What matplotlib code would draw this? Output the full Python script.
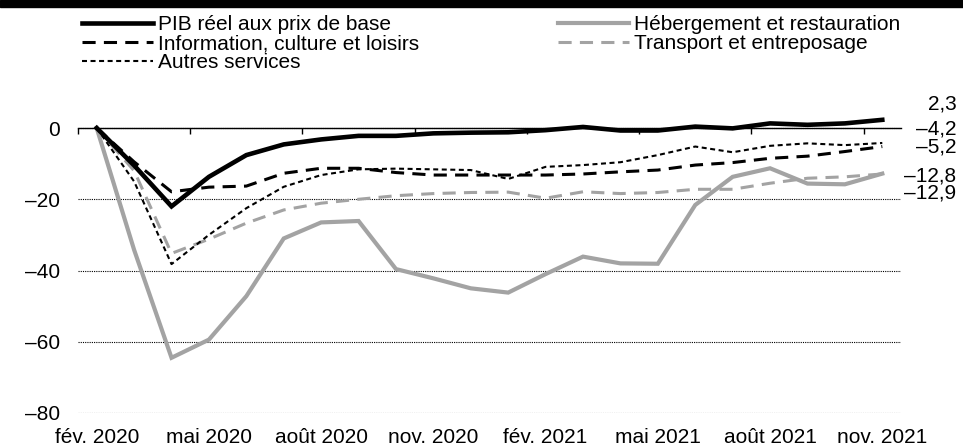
import numpy as np
import matplotlib
matplotlib.use('Agg')
import matplotlib.pyplot as plt
from matplotlib.patches import Rectangle

plt.rcParams['font.family'] = ['Liberation Sans', 'DejaVu Sans']
plt.rcParams['font.size'] = 15

# données (variation en % depuis février 2020)
mois = ['fév. 2020', 'mars 2020', 'avr. 2020', 'mai 2020', 'juin 2020', 'juil. 2020',
        'août 2020', 'sept. 2020', 'oct. 2020', 'nov. 2020', 'déc. 2020', 'janv. 2021',
        'fév. 2021', 'mars 2021', 'avr. 2021', 'mai 2021', 'juin 2021', 'juil. 2021',
        'août 2021', 'sept. 2021', 'oct. 2021', 'nov. 2021']
pib = [0, -10.5, -22.0, -13.7, -7.6, -4.6, -3.2, -2.2, -2.2, -1.5, -1.3, -1.2,
       -0.6, 0.3, -0.7, -0.7, 0.4, -0.1, 1.3, 0.9, 1.3, 2.3]
hebergement = [0, -34.2, -64.5, -59.4, -47.2, -31.0, -26.5, -26.1, -39.6, -42.2, -45.0, -46.2,
               -41.0, -36.1, -38.0, -38.1, -21.6, -13.7, -11.3, -15.6, -15.8, -12.8]
information = [0, -9.5, -17.9, -16.6, -16.3, -12.7, -11.3, -11.3, -12.5, -13.2, -13.2, -13.2,
               -13.2, -12.9, -12.3, -11.8, -10.4, -9.7, -8.5, -7.9, -6.6, -5.2]
transport = [0, -12.0, -35.2, -31.2, -26.7, -23.0, -21.1, -20.0, -19.0, -18.4, -18.1, -18.0,
             -19.7, -17.9, -18.4, -18.1, -17.2, -17.2, -15.5, -14.1, -13.7, -12.9]
autres = [0, -15.0, -38.2, -30.0, -22.5, -16.5, -13.2, -11.6, -11.4, -11.6, -11.8, -14.3,
          -10.9, -10.4, -9.6, -7.6, -5.2, -6.8, -5.0, -4.3, -4.8, -4.2]

gris = '#a3a3a3'
x = np.arange(len(mois))

fig = plt.figure(figsize=(9.63, 4.47), dpi=100)
ax = fig.add_axes([78 / 963, 34 / 447, 823 / 963, 320.6 / 447])

# bande noire en haut
fig.add_artist(Rectangle((0, 1 - 7 / 447), 1, 7 / 447, transform=fig.transFigure,
                         color='black', zorder=0))

l_heb, = ax.plot(x, hebergement, color=gris, lw=3.0, solid_joinstyle='miter')
l_tra, = ax.plot(x, transport, color=gris, lw=2.2, dashes=(4.3, 2.7))
l_aut, = ax.plot(x, autres, color='black', lw=1.5, dashes=(2.4, 1.7))
l_inf, = ax.plot(x, information, color='black', lw=2.2, dashes=(4.3, 2.7))
l_pib, = ax.plot(x, pib, color='black', lw=3.3, solid_joinstyle='miter')

ax.set_xlim(-0.5, len(mois) - 0.5)
ax.set_ylim(-80, 10)
ax.set_yticks([0, -20, -40, -60, -80],
              ['0', '\u201320', '\u201340', '\u201360', '\u201380'])
ax.yaxis.grid(True, linestyle=(0, (1, 1)), linewidth=0.8, color='black')
ax.set_axisbelow(True)
ax.tick_params(axis='y', length=0, pad=13)

for s in ['left', 'right', 'top']:
    ax.spines[s].set_visible(False)
ax.spines['bottom'].set_position(('data', 0))
ax.spines['bottom'].set_linewidth(1.0)
ax.set_xticks(np.arange(-0.5, len(mois) - 0.5, 3))
ax.tick_params(axis='x', direction='out', length=4, width=1.0, labelbottom=False)

sec = ax.secondary_xaxis('bottom')
sec.set_xticks(x[::3], mois[::3])
sec.tick_params(length=0, pad=11)
sec.spines['bottom'].set_visible(False)

# étiquettes de fin de série
decalages = [16, 14, 0, -2, -19]
for serie, dy in zip([pib, autres, information, hebergement, transport], decalages):
    v = serie[-1]
    txt = ('%.1f' % v).replace('-', '\u2013').replace('.', ',')
    ax.annotate(txt, xy=(x[-1], v), xytext=(74, dy), textcoords='offset pixels',
                ha='right', va='center', annotation_clip=False)

fig.legend([l_pib, l_inf, l_aut, l_heb, l_tra],
           ['PIB réel aux prix de base', 'Information, culture et loisirs', 'Autres services',
            'Hébergement et restauration', 'Transport et entreposage'],
           ncol=2, loc='upper left', bbox_to_anchor=(82 / 963, 1 - 15 / 447),
           frameon=False, borderpad=0, borderaxespad=0, handlelength=3.4,
           handletextpad=0.25, columnspacing=6.65, labelspacing=0.0)

fig.savefig('out.png', dpi=100)
